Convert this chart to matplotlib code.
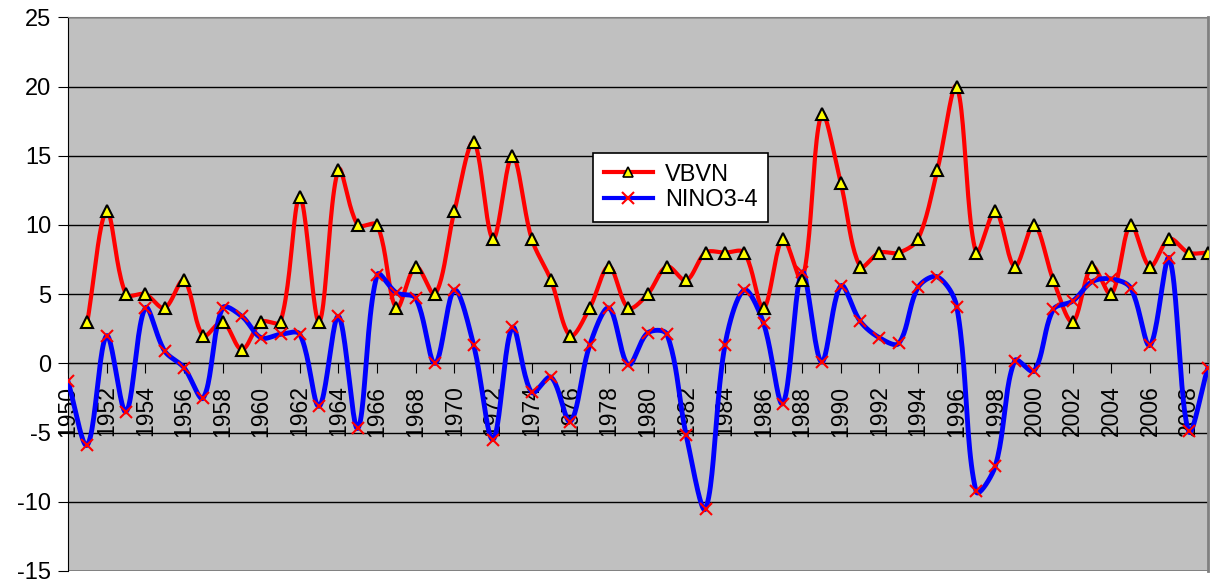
import numpy as np
import matplotlib
matplotlib.use('Agg')
import matplotlib.pyplot as plt

plt.rcParams['font.family'] = ['Liberation Sans', 'DejaVu Sans']
plt.rcParams['axes.unicode_minus'] = False

# data
vbvn_years = list(range(1951, 2010))
vbvn = [3, 11, 5, 5, 4, 6, 2, 3, 1, 3,
        3, 12, 3, 14, 10, 10, 4, 7, 5, 11,
        16, 9, 15, 9, 6, 2, 4, 7, 4, 5,
        7, 6, 8, 8, 8, 4, 9, 6, 18, 13,
        7, 8, 8, 9, 14, 20, 8, 11, 7, 10,
        6, 3, 7, 5, 10, 7, 9, 8, 8]

nino_years = list(range(1950, 2010))
nino = [-1.3, -5.9, 2.0, -3.5, 4.0, 0.9, -0.3, -2.5, 4.0, 3.4,
        1.85, 2.1, 2.1, -3.1, 3.4, -4.7, 6.4, 5.1, 4.7, 0.0,
        5.3, 1.3, -5.5, 2.6, -2.1, -1.0, -4.2, 1.3, 4.0, -0.1,
        2.2, 2.1, -5.2, -10.5, 1.3, 5.3, 2.9, -2.9, 6.6, 0.1,
        5.6, 3.05, 1.85, 1.45, 5.5, 6.25, 4.1, -9.25, -7.4, 0.2,
        -0.55, 3.9, 4.5, 5.9, 6.1, 5.45, 1.3, 7.6, -4.9, -0.3]

tick_years = list(range(1950, 2010, 2))

# approx. screen scale (px per year, px per unit) used to weight the smoothing
SX, SY = 19.32, 13.84


def smooth(xs, ys, n=24):
    # Excel-like smoothed line: Bezier segments, tangents weighted by chord length
    P = np.column_stack([np.asarray(xs, float) * SX, np.asarray(ys, float) * SY])
    P = np.vstack([P[0], P, P[-1]])
    t = np.linspace(0, 1, n)[:, None]
    out = []
    for i in range(1, len(P) - 2):
        p0, p1, p2, p3 = P[i - 1], P[i], P[i + 1], P[i + 2]
        d01 = np.hypot(*(p1 - p0))
        d12 = np.hypot(*(p2 - p1))
        d23 = np.hypot(*(p3 - p2))
        w1 = d12 / (d01 + d12) if d01 + d12 > 0 else 0.5
        w2 = d12 / (d12 + d23) if d12 + d23 > 0 else 0.5
        c1 = p1 + (p2 - p0) * w1 / 3
        c2 = p2 - (p3 - p1) * w2 / 3
        seg = ((1 - t) ** 3) * p1 + 3 * (1 - t) ** 2 * t * c1 \
            + 3 * (1 - t) * t ** 2 * c2 + (t ** 3) * p2
        out.append(seg)
    out = np.vstack(out)
    return out[:, 0] / SX, out[:, 1] / SY


fig = plt.figure(figsize=(12.14, 5.83), dpi=100)
ax = fig.add_axes([0.056, 0.0206, 0.939, 0.9496])
ax.set_facecolor('#c0c0c0')

sx, sy = smooth(vbvn_years, vbvn)
ax.plot(sx, sy, color='#ff0000', lw=3, zorder=3)
ax.plot(vbvn_years, vbvn, ls='none', marker='^', ms=8, mfc='#ffff00',
        mec='black', mew=1.5, zorder=5)

sx, sy = smooth(nino_years, nino)
ax.plot(sx, sy, color='#0000ff', lw=3.5, zorder=3)
ax.plot(nino_years, nino, ls='none', marker='x', ms=9, mec='#ff0000',
        mew=1.5, zorder=5)

# legend proxies
h1, = ax.plot([], [], color='#ff0000', lw=3, marker='^', ms=7,
              mfc='#ffff00', mec='black', mew=1.2)
h2, = ax.plot([], [], color='#0000ff', lw=3, marker='x', ms=8,
              mec='#ff0000', mew=1.5)
leg = ax.legend([h1, h2], ['VBVN', 'NINO3-4'], loc='upper left',
                bbox_to_anchor=(0.4605, 0.755), borderaxespad=0,
                fontsize=17, frameon=True, fancybox=False, framealpha=1,
                edgecolor='black', handlelength=2.1, handletextpad=0.5,
                labelspacing=0.15, borderpad=0.45)
leg.get_frame().set_linewidth(1.2)
leg.set_zorder(10)

ax.set_xlim(1950, 2009)
ax.set_ylim(-15, 25)
ax.set_yticks(range(-15, 30, 5))
ax.set_xticks(tick_years)
ax.set_xticklabels([str(y) for y in tick_years])

ax.yaxis.grid(True, color='black', lw=1)
ax.set_axisbelow(True)

ax.spines['bottom'].set_position(('data', 0))
ax.spines['bottom'].set_color('black')
ax.spines['left'].set_color('black')
ax.spines['top'].set_color('#808080')
ax.spines['right'].set_color('#808080')
ax.spines['right'].set_linewidth(2)
ax.axhline(-15, color='#808080', lw=2, zorder=1)

ax.tick_params(axis='y', direction='out', length=7, labelsize=17, pad=5)
ax.tick_params(axis='x', direction='out', length=7, labelsize=16.5, pad=9,
               labelrotation=90)
for lbl in ax.get_xticklabels():
    lbl.set_va('top')
    lbl.set_ha('center')

fig.savefig('out.png', dpi=100)
